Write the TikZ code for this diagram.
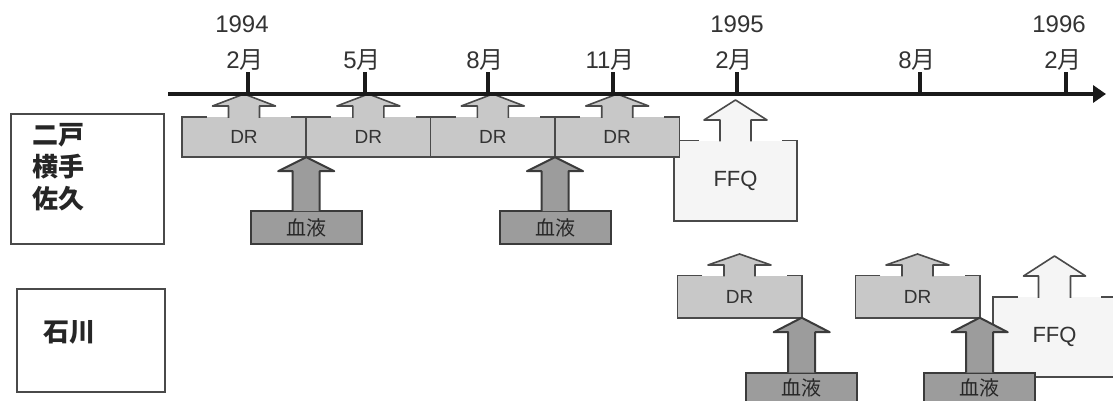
\documentclass[tikz,border=0pt]{standalone}
\usepackage{fontspec}
\setmainfont{Liberation Sans}
\newfontfamily\cjk{Noto Sans CJK JP}
\usetikzlibrary{positioning,arrows.meta,calc}
\definecolor{TLink}{HTML}{1A1A1A}
\definecolor{DRfill}{HTML}{C8C8C8}
\definecolor{BLfill}{HTML}{9C9C9C}
\definecolor{FQfill}{HTML}{F5F5F5}
\definecolor{EDGE}{HTML}{4A4A4A}
\definecolor{LBL}{HTML}{333333}
\tikzset{
  timeline/.style={line width=4.5pt, draw=TLink, -{Triangle[length=13pt,width=17pt]}},
  tickmark/.style={line width=4pt, draw=TLink},
  yearlbl/.style={font=\fontsize{24}{28}\selectfont, text=LBL, inner sep=0pt},
  monthlbl/.style={font=\fontsize{24}{28}\selectfont, text=LBL, inner sep=0pt},
  sitebox/.style={draw=EDGE, line width=2pt, anchor=north west, inner sep=0pt},
  sitetxt/.style={font=\fontsize{26}{32}\selectfont\cjk\bfseries, text=black!85, align=left, anchor=west, inner sep=0pt},
  drbox/.style={fill=DRfill, minimum width=124pt, minimum height=40pt, inner sep=0pt, font=\fontsize{19}{22}\selectfont, text=LBL},
  ffqbox/.style={fill=FQfill, minimum width=123pt, minimum height=80pt, inner sep=0pt, font=\fontsize{22}{26}\selectfont, text=LBL},
  bloodbox/.style={fill=BLfill, draw=EDGE!80!black, line width=2pt, minimum width=111pt, minimum height=33pt, inner sep=0pt, font=\fontsize{20}{24}\selectfont\cjk, text=black!85},
  edge/.style={draw=EDGE, line width=1.6pt},
  drcall/.style={fill=DRfill, edge, line join=round},
  ffqcall/.style={fill=FQfill, edge, line join=round},
  blcall/.style={fill=BLfill, draw=EDGE!80!black, line width=2pt, line join=round}
}
% box outline, top edge open in the middle
\newcommand{\gapedge}[1]{%
  \draw[edge] ($(#1.north west)+(25,0)$) -- (#1.north west) -- (#1.south west)
    -- (#1.south east) -- (#1.north east) -- ++(-15,0);}
% up arrow on a box: style, box, tip, stem half width, head half width, head length
\newcommand{\upcall}[6]{%
  \filldraw[#1] let \p1=(#2.north), \p2=(#3) in
    (\x1-#4pt,\y1-1pt) -- (\x1-#4pt,\y2-#6pt) -- (\x1-#5pt,\y2-#6pt) -- (\x1,\y2)
    -- (\x1+#5pt,\y2-#6pt) -- (\x1+#4pt,\y2-#6pt) -- (\x1+#4pt,\y1-1pt);}

\begin{document}
\begin{tikzpicture}[x=1pt, y=-1pt, node distance=0pt]
\useasboundingbox[fill=white] (0,0) rectangle (1113,401);
\clip (0,0) rectangle (1113,401);

% sites
\node[sitebox, minimum width=153pt, minimum height=130pt] (site1) at (10,113) {};
\node[sitetxt] (site1txt) at (32,167) {二戸\\横手\\佐久};
\node[sitebox, minimum width=148pt, minimum height=103pt] (site2) at (16,288) {};
\node[sitetxt] (site2txt) at (43,332) {石川};

% time axis
\coordinate (tl0) at (168,94);
\coordinate (tl1) at (1106,94);
\foreach \n/\x in {1/248,2/365,3/488,4/613,5/737,6/920,7/1066}
  \coordinate (m\n) at (\x,94);

% first row
\node[ffqbox] (ffq1) at (735.5,180.5) {\raisebox{-14pt}{FFQ}};
\gapedge{ffq1}
\upcall{ffqcall}{ffq1}{$(m5)+(0,6)$}{15.5}{31.5}{20}
\node[drbox] (dr1) at (244,137) {DR};
\node[drbox, right=of dr1] (dr2) {DR};
\node[drbox, right=of dr2] (dr3) {DR};
\node[drbox, right=of dr3] (dr4) {DR};
\foreach \b/\m in {dr1/m1,dr2/m2,dr3/m3,dr4/m4} {
  \gapedge{\b}
  \upcall{drcall}{\b}{\m}{15.5}{31.5}{12}
}
\node[bloodbox, below=53pt of dr1.south east] (bl1) {血液};
\node[bloodbox, below=53pt of dr3.south east] (bl2) {血液};
\upcall{blcall}{bl1}{dr1.south east}{13.5}{28}{14}
\upcall{blcall}{bl2}{dr3.south east}{13.5}{28}{14}

% second row
\coordinate (pa) at (739.5,254);
\coordinate (pb) at (917.5,254);
\coordinate (pf) at (1054.5,256);
\node[ffqbox] (ffq2) at (1054.5,337) {\raisebox{-13pt}{FFQ}};
\gapedge{ffq2}
\upcall{ffqcall}{ffq2}{pf}{16}{31}{20}
\node[drbox, minimum height=42pt] (dra) at (739.5,296.5) {DR};
\node[drbox, minimum height=42pt] (drb) at (917.5,296.5) {DR};
\gapedge{dra}
\gapedge{drb}
\upcall{drcall}{dra}{pa}{15.5}{31.5}{11}
\upcall{drcall}{drb}{pb}{15.5}{31.5}{11}
\node[bloodbox, below=54pt of dra.south east] (bl3) {\raisebox{4pt}{血液}};
\node[bloodbox, below=54pt of drb.south east] (bl4) {\raisebox{4pt}{血液}};
\upcall{blcall}{bl3}{dra.south east}{13.5}{28}{14.5}
\upcall{blcall}{bl4}{drb.south east}{13.5}{28}{14.5}

% axis on top
\foreach \n in {1,...,7}
  \draw[tickmark] (m\n) -- ++(0,-22);
\draw[timeline] (tl0) -- (tl1);
\foreach \n/\t in {1/2,2/5,3/8,4/11,5/2,6/8,7/2}
  \node[monthlbl] (lm\n) at ($(m\n)+(-3,-34)$) {\t{\cjk 月}};
\node[yearlbl] (y1994) at ($(m1)+(-6,-70)$) {1994};
\node[yearlbl] (y1995) at ($(m5)+(0,-70)$) {1995};
\node[yearlbl] (y1996) at ($(m7)+(-7,-70)$) {1996};
\end{tikzpicture}
\end{document}
